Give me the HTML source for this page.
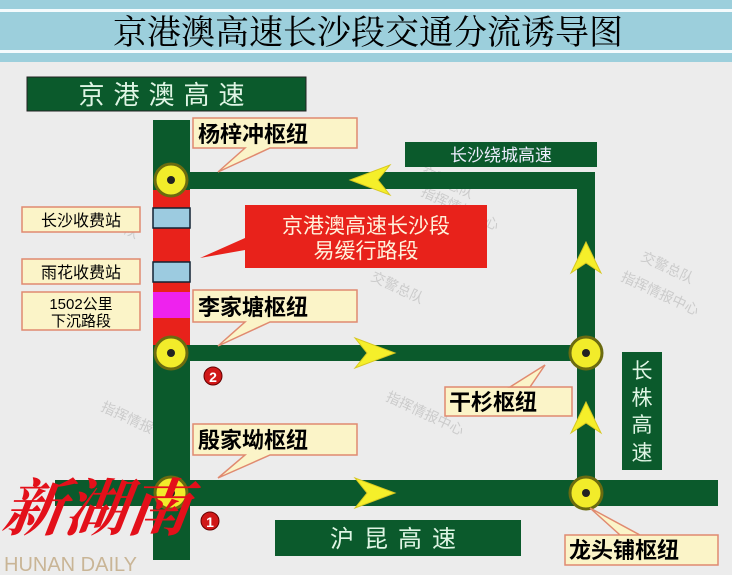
<!DOCTYPE html>
<html><head><meta charset="utf-8"><style>
body{margin:0;width:732px;height:575px;overflow:hidden;background:#ececec}
svg{display:block}
text{font-family:"Liberation Sans","Noto Sans CJK SC",sans-serif}
</style></head><body>
<svg width="732" height="575" viewBox="0 0 732 575">
<rect width="732" height="575" fill="#ececec"/>
<rect width="732" height="62" fill="#9ccfdc"/>
<rect y="9" width="732" height="3" fill="#f4fbfd"/>
<rect y="50" width="732" height="3" fill="#f4fbfd"/>
<text x="368" y="44" font-size="34" text-anchor="middle" fill="#000" style="font-family:'Noto Serif CJK SC',serif">京港澳高速长沙段交通分流诱导图</text>

<g fill="#c8c8c8" font-size="14" opacity="0.9">
<text transform="translate(85,215) rotate(25)">交警总队</text>
<text transform="translate(420,175) rotate(25)">交警总队</text>
<text transform="translate(420,195) rotate(25)">指挥情报中心</text>
<text transform="translate(640,260) rotate(25)">交警总队</text>
<text transform="translate(620,280) rotate(25)">指挥情报中心</text>
<text transform="translate(370,280) rotate(25)">交警总队</text>
<text transform="translate(100,410) rotate(25)">指挥情报中心</text>
<text transform="translate(385,400) rotate(25)">指挥情报中心</text>
</g>

<rect x="27" y="77" width="279" height="34" fill="#0b5a2c" stroke="#222" stroke-width="1"/>
<text x="166" y="104" font-size="26" text-anchor="middle" fill="#dff5e4" letter-spacing="9">京港澳高速</text>

<rect x="153" y="120" width="37" height="440" fill="#0b5a2c"/>
<rect x="153" y="190" width="37" height="155" fill="#e8221b"/>
<rect x="170" y="172" width="425" height="17" fill="#0b5a2c"/>
<rect x="577" y="172" width="18" height="325" fill="#0b5a2c"/>
<rect x="170" y="345" width="420" height="16" fill="#0b5a2c"/>
<rect x="55" y="480" width="663" height="26" fill="#0b5a2c"/>
<rect x="153" y="208" width="37" height="20" fill="#9ccbe0" stroke="#123" stroke-width="1.5"/>
<rect x="153" y="262" width="37" height="20" fill="#9ccbe0" stroke="#123" stroke-width="1.5"/>
<rect x="153" y="292" width="37" height="26" fill="#ee22ee"/>

<g fill="#f2ec2a" stroke="#6b6b10" stroke-width="3">
<circle cx="171" cy="180" r="16"/><circle cx="171" cy="353" r="16"/><circle cx="171" cy="493" r="16"/>
<circle cx="586" cy="353" r="16"/><circle cx="586" cy="493" r="16"/>
</g>
<g fill="#222"><circle cx="171" cy="180" r="4"/><circle cx="171" cy="353" r="4"/><circle cx="171" cy="493" r="4"/><circle cx="586" cy="353" r="4"/><circle cx="586" cy="493" r="4"/></g>

<g fill="#f5ef2a" stroke="#d8c820" stroke-width="1">
<polygon points="350,180 390,165 378,180 390,195"/>
<polygon points="395,353 355,338 367,353 355,368"/>
<polygon points="395,493 355,478 367,493 355,508"/>
<polygon points="586,242 571,273 586,263 601,273"/>
<polygon points="586,402 571,433 586,423 601,433"/>
</g>

<g fill="#fbf4c8" stroke="#e08a70" stroke-width="1.5">
<rect x="22" y="207" width="118" height="25"/>
<rect x="22" y="259" width="118" height="25"/>
<rect x="22" y="292" width="118" height="38"/>
</g>
<g font-size="16" fill="#000" text-anchor="middle">
<text x="81" y="226">长沙收费站</text>
<text x="81" y="278">雨花收费站</text>
<text x="81" y="309" font-size="15">1502公里</text>
<text x="81" y="326" font-size="15">下沉路段</text>
</g>

<g fill="#fbf4c8" stroke="#e08a70" stroke-width="1.5">
<polygon points="193,118 357,118 357,148 270,148 218,172 245,148 193,148"/>
<polygon points="193,290 357,290 357,322 270,322 218,346 245,322 193,322"/>
<polygon points="193,424 357,424 357,455 270,455 218,478 245,455 193,455"/>
<polygon points="445,387 572,387 572,416 445,416 445,387"/>
<polygon points="510,387 545,365 530,387"/>
<polygon points="565,535 718,535 718,565 565,565 565,535 620,535 590,508 640,535"/>
</g>
<g font-size="22" fill="#000" font-weight="bold">
<text x="198" y="142">杨梓冲枢纽</text>
<text x="198" y="315">李家塘枢纽</text>
<text x="198" y="448">殷家坳枢纽</text>
<text x="449" y="410">干杉枢纽</text>
<text x="569" y="558">龙头铺枢纽</text>
</g>

<polygon points="245,205 487,205 487,268 245,268 245,250 200,258 245,238" fill="#e8221b"/>
<text x="366" y="233" font-size="21" fill="#fff2dc" text-anchor="middle">京港澳高速长沙段</text>
<text x="366" y="258" font-size="21" fill="#fff2dc" text-anchor="middle">易缓行路段</text>

<rect x="405" y="142" width="192" height="25" fill="#0b5a2c"/>
<text x="501" y="161" font-size="17" fill="#eef" text-anchor="middle">长沙绕城高速</text>
<rect x="622" y="352" width="40" height="118" fill="#0b5a2c"/>
<g font-size="21" fill="#dff5e4" text-anchor="middle">
<text x="642" y="378">长</text><text x="642" y="405">株</text><text x="642" y="432">高</text><text x="642" y="460">速</text>
</g>
<rect x="275" y="520" width="246" height="36" fill="#0b5a2c"/>
<text x="398" y="547" font-size="24" fill="#dff5e4" text-anchor="middle" letter-spacing="10">沪昆高速</text>

<circle cx="213" cy="376" r="9" fill="#d01818" stroke="#600" stroke-width="1"/>
<text x="213" y="382" font-size="14" fill="#fff" text-anchor="middle" font-weight="bold">2</text>
<circle cx="210" cy="521" r="9" fill="#d01818" stroke="#600" stroke-width="1"/>
<text x="210" y="527" font-size="14" fill="#fff" text-anchor="middle" font-weight="bold">1</text>

<text x="0" y="530" font-size="62" fill="#e3101a" font-style="italic" font-weight="bold" style="font-family:'Noto Serif CJK SC',serif" transform="translate(75,0) skewX(-8)">新湖南</text>
<text x="4" y="571" font-size="20" fill="#c9b596">HUNAN DAILY</text>
</svg>
</body></html>
